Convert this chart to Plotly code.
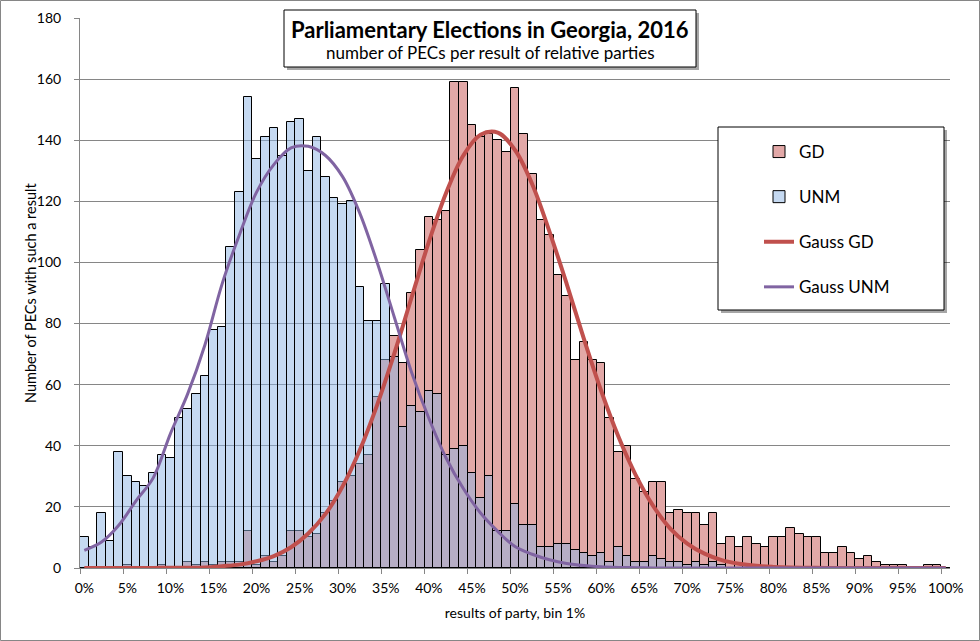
import plotly.graph_objects as go

# ---------------- data ----------------
bins = list(range(0, 101))  # result of party, % (bin 1%)

gd_counts = [0, 0, 0, 0, 0, 1, 0, 0, 0, 1,
             0, 0, 2, 1, 2, 1, 2, 2, 2, 12,
             1, 4, 2, 4, 12, 12, 10, 11, 18, 22,
             28, 30, 34, 37, 56, 68, 76, 67, 90, 104,
             115, 114, 117, 159, 159, 145, 141, 142, 140, 136,
             157, 142, 129, 114, 109, 96, 89, 68, 74, 68,
             67, 49, 38, 40, 29, 25, 28, 28, 18, 19,
             18, 18, 14, 18, 8, 10, 7, 10, 8, 7,
             10, 10, 13, 11, 10, 10, 5, 5, 7, 5,
             3, 4, 2, 1, 1, 1, 0, 0, 1, 1,
             0]

unm_counts = [10, 7, 18, 9, 38, 30, 28, 27, 31, 37,
              36, 49, 52, 57, 63, 78, 79, 105, 123, 154,
              134, 141, 144, 135, 146, 147, 130, 141, 128, 121,
              119, 120, 92, 81, 81, 93, 69, 46, 53, 51,
              58, 57, 37, 39, 40, 31, 23, 30, 12, 12,
              21, 14, 14, 7, 7, 8, 8, 6, 5, 4,
              5, 2, 7, 4, 2, 2, 4, 3, 2, 2,
              1, 2, 1, 2, 1, 0, 0, 0, 0, 0,
              0, 0, 0, 0, 0, 0, 0, 0, 0, 0,
              0, 0, 0, 0, 0, 0, 0, 0, 0, 0,
              0]

gauss_x = list(range(0, 101, 2))

gauss_gd = [0, 0, 0, 0, 0, 0.1, 0.1, 0.2, 0.6, 1.1,
            2.2, 3.9, 6.8, 11.3, 17.7, 26.8, 38.7, 53.4, 70.3, 88.6,
            106.7, 122.7, 135.0, 141.8, 142.5, 136.8, 125.6, 110.1, 93.0, 75.0,
            58.0, 43.0, 30.5, 20.5, 13.0, 8.0, 4.7, 2.6, 1.4, 0.7,
            0.35, 0.15, 0.07, 0.03, 0, 0, 0, 0, 0, 0,
            0]

gauss_unm = [5.8, 8.5, 14.0, 22.0, 29.5, 44.0, 57.0, 73.0, 93.0, 109.0,
             123.0, 132.0, 137.5, 138.0, 135.0, 128.0, 116.0, 100.0, 82.0, 64.0,
             49.0, 36.0, 26.0, 18.0, 12.0, 7.0, 4.5, 2.7, 1.5, 0.8,
             0.4, 0.2, 0.1, 0, 0, 0, 0, 0, 0, 0,
             0, 0, 0, 0, 0, 0, 0, 0, 0, 0,
             0]

tick_pos = list(range(0, 101, 5))
tick_text = [f"{v}%" for v in tick_pos]

title_text = "<b>Parliamentary Elections in Georgia, 2016</b>"
subtitle_text = "number of PECs per result of relative parties"
x_title = "results of party, bin 1%"
y_title = "Number of PECs with such a result"

# ---------------- figure ----------------
FONT = "Lato, 'Open Sans', sans-serif"
W, H = 980, 641
ML, MR, MT, MB = 80, 30, 18, 73
PW, PH = W - ML - MR, H - MT - MB


def px(x):
    return (x - ML) / PW


def py(y):
    return (H - MB - y) / PH


fig = go.Figure()

fig.add_trace(go.Bar(
    x=bins, y=gd_counts, name="GD", legendgroup="a",
    marker=dict(color="rgb(226,168,167)", line=dict(color="black", width=1)),
))
fig.add_trace(go.Bar(
    x=bins, y=unm_counts, name="UNM", legendgroup="b",
    marker=dict(color="rgba(139,179,227,0.5)", line=dict(color="black", width=1)),
))
fig.add_trace(go.Scatter(
    x=gauss_x, y=gauss_gd, name="Gauss GD", legendgroup="c", mode="lines",
    line=dict(color="#C0504D", width=4, shape="spline"),
))
fig.add_trace(go.Scatter(
    x=gauss_x, y=gauss_unm, name="Gauss UNM", legendgroup="d", mode="lines",
    line=dict(color="#8064A2", width=3, shape="spline"),
))

shapes = []
# outer chart border
shapes.append(dict(type="rect", xref="paper", yref="paper",
                   x0=px(0.5), x1=px(W - 0.5), y0=py(H - 0.5), y1=py(0.5),
                   line=dict(color="#868686", width=1), fillcolor="rgba(0,0,0,0)",
                   layer="above"))
# title box with shadow
shapes.append(dict(type="rect", xref="paper", yref="paper",
                   x0=px(287), x1=px(699), y0=py(70), y1=py(13),
                   line=dict(width=0), fillcolor="rgba(0,0,0,0.35)", layer="above"))
shapes.append(dict(type="rect", xref="paper", yref="paper",
                   x0=px(284), x1=px(696), y0=py(67), y1=py(10),
                   line=dict(color="black", width=1), fillcolor="white", layer="above"))
# legend box with shadow
shapes.append(dict(type="rect", xref="paper", yref="paper",
                   x0=px(721), x1=px(947), y0=py(313), y1=py(130),
                   line=dict(width=0), fillcolor="rgba(0,0,0,0.35)", layer="above"))
shapes.append(dict(type="rect", xref="paper", yref="paper",
                   x0=px(718), x1=px(944), y0=py(310), y1=py(127),
                   line=dict(color="black", width=1), fillcolor="white", layer="above"))

annotations = [
    dict(text=title_text, xref="paper", yref="paper", x=px(490), y=py(29),
         xanchor="center", yanchor="middle", showarrow=False,
         font=dict(family=FONT, size=22, color="black")),
    dict(text=subtitle_text, xref="paper", yref="paper", x=px(490), y=py(53),
         xanchor="center", yanchor="middle", showarrow=False,
         font=dict(family=FONT, size=17, color="black")),
    dict(text=y_title, xref="paper", yref="paper", x=px(30), y=py(293),
         xanchor="center", yanchor="middle", showarrow=False, textangle=-90,
         font=dict(family=FONT, size=14.5, color="black")),
]

fig.update_layout(
    width=W, height=H,
    margin=dict(l=ML, r=MR, t=MT, b=MB, pad=0, autoexpand=False),
    paper_bgcolor="white", plot_bgcolor="white",
    barmode="overlay", bargap=0,
    font=dict(family=FONT, size=14, color="black"),
    shapes=shapes, annotations=annotations,
    showlegend=True,
    legend=dict(x=px(759), y=py(134), xanchor="left", yanchor="top",
                bgcolor="rgba(0,0,0,0)", borderwidth=0,
                traceorder="grouped", tracegroupgap=20,
                itemwidth=30,
                font=dict(family=FONT, size=17, color="black")),
    xaxis=dict(range=[-0.5, 100.5], tickmode="array", tickvals=tick_pos, ticktext=tick_text,
               ticks="", showgrid=False, zeroline=False, automargin=False,
               showline=True, linecolor="#868686", linewidth=1,
               ticklabelstandoff=7,
               tickfont=dict(family=FONT, size=14, color="black"),
               minor=dict(tick0=-0.5, dtick=5, ticks="outside", ticklen=5,
                          tickcolor="#868686", tickwidth=1, showgrid=False),
               title=dict(text=x_title, standoff=13,
                          font=dict(family=FONT, size=14, color="black"))),
    yaxis=dict(range=[0, 180], dtick=20, showgrid=True, gridcolor="#868686", gridwidth=1,
               zeroline=False, showline=True, linecolor="#868686", linewidth=1,
               ticks="outside", ticklen=5, tickcolor="#868686", automargin=False,
               ticklabelstandoff=10,
               tickfont=dict(family=FONT, size=14, color="black")),
)

fig.write_html("out.html", config={"displayModeBar": False},
               post_script=["document.body.style.margin='0';"])
